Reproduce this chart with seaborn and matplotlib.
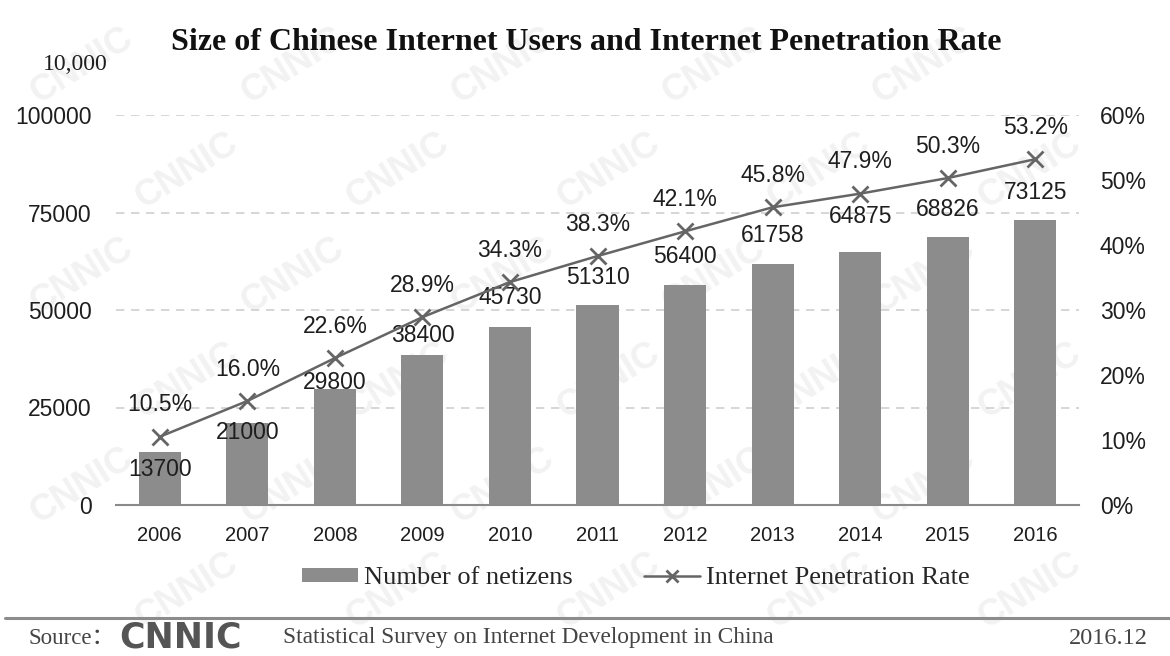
import numpy as np
import pandas as pd
import matplotlib
matplotlib.use("Agg")
import matplotlib.pyplot as plt
import seaborn as sns
from matplotlib.patches import Patch
from matplotlib.lines import Line2D

# Data
years = ["2006", "2007", "2008", "2009", "2010", "2011", "2012", "2013", "2014", "2015", "2016"]
netizens = [13700, 21000, 29800, 38400, 45730, 51310, 56400, 61758, 64875, 68826, 73125]
penetration = [10.5, 16.0, 22.6, 28.9, 34.3, 38.3, 42.1, 45.8, 47.9, 50.3, 53.2]
left_ticks = [0, 25000, 50000, 75000, 100000]
right_ticks = [0, 10, 20, 30, 40, 50, 60]

# Styling
BAR = "#8c8c8c"
LINE = "#656565"
TXT = "#1e1e1e"
GRID = "#cfcfcf"
# vertical nudge (pixels, + = downward) of each bar value label relative to the bar top
bar_label_nudge = [18, 9, -6, -20, -29, -27, -29, -29, -35, -27, -27]
PX = 0.72  # points per pixel at dpi 100

sns.set_theme(style="white")
plt.rcParams["font.family"] = ["Liberation Sans", "DejaVu Sans"]
SERIF = ["Liberation Serif", "Noto Sans CJK SC", "DejaVu Serif"]

df = pd.DataFrame({"year": years, "users": netizens, "rate": penetration})

fig = plt.figure(figsize=(11.7, 6.56), dpi=100)
fig.patch.set_facecolor("white")

# faint diagonal watermark lattice on a background layer
bg = fig.add_axes([0, 0, 1, 1], zorder=-5)
bg.set_xlim(0, 1)
bg.set_ylim(0, 1)
bg.axis("off")
for row, yy in enumerate(np.arange(0.90, 0.05, -0.16)):
    shift = 0.0 if row % 2 == 0 else 0.09
    for xx in np.arange(0.07 + shift, 0.95, 0.18):
        bg.text(xx, yy, "CNNIC", rotation=32, fontsize=26, fontweight="bold",
                color="#f2f2f2", ha="center", va="center")

ax = fig.add_axes([116 / 1170, 1 - 505 / 656, (1079 - 116) / 1170, 390 / 656])
ax.patch.set_alpha(0)
sns.barplot(data=df, x="year", y="users", color=BAR, saturation=1, width=0.48,
            linewidth=0, ax=ax, zorder=2)
ax.set_xlim(-0.5, len(years) - 0.5)
ax.set_ylim(0, 100000)
ax.set_yticks(left_ticks)
ax.set_yticklabels([str(t) for t in left_ticks])
ax.set_xlabel("")
ax.set_ylabel("")
for s in ["top", "right", "left"]:
    ax.spines[s].set_visible(False)
ax.spines["bottom"].set_color("#8a8a8a")
ax.spines["bottom"].set_linewidth(1.5)
for t in left_ticks[1:]:
    ax.axhline(t, color=GRID, lw=1.2, ls=(0, (5, 4)), zorder=1)
ax.tick_params(axis="y", length=0, pad=17.5, labelsize=16.5, labelcolor=TXT)
ax.tick_params(axis="x", which="major", length=0, pad=15, labelsize=14.5, labelcolor=TXT)
ax.set_xticks(np.arange(-0.5, len(years), 1.0), minor=True)
ax.tick_params(axis="x", which="minor", direction="in", length=6, width=1.3, color="#8a8a8a")

for i, v in enumerate(netizens):
    ax.annotate(str(v), (i, v), xytext=(0, -bar_label_nudge[i] * PX), textcoords="offset points",
                ha="center", va="center", fontsize=16.5, color=TXT, zorder=5)

ax2 = ax.twinx()
sns.pointplot(data=df, x="year", y="rate", ax=ax2, color=LINE, markers="x",
              linestyles="-", markersize=11, markeredgewidth=2, linewidth=1.8)
ax2.set_xlim(-0.5, len(years) - 0.5)
ax2.set_ylim(0, 60)
ax2.set_yticks(right_ticks)
ax2.set_yticklabels([f"{t}%" for t in right_ticks])
ax2.set_ylabel("")
ax2.set_xlabel("")
for s in ["top", "right", "left", "bottom"]:
    ax2.spines[s].set_visible(False)
ax2.tick_params(axis="y", length=0, pad=15, labelsize=16.5, labelcolor=TXT)
ax2.tick_params(axis="x", which="both", length=0)
for i, p in enumerate(penetration):
    ax2.annotate(f"{p:.1f}%", (i, p), xytext=(0, 32 * PX), textcoords="offset points",
                 ha="center", va="center", fontsize=16.5, color=TXT)

# title and unit
fig.text(586 / 1170, 1 - 42 / 656, "Size of Chinese Internet Users and Internet Penetration Rate",
         ha="center", va="center", fontsize=23, fontweight="bold", family=SERIF, color="#111111")
fig.text(75 / 1170, 1 - 65 / 656, "10,000", ha="center", va="center", fontsize=17,
         family=SERIF, color=TXT)

# legend
handles = [Patch(facecolor=BAR, edgecolor="none"),
           Line2D([0], [0], color=LINE, lw=1.8, marker="x", markersize=9, markeredgewidth=2)]
fig.legend(handles, ["Number of netizens", "Internet Penetration Rate"],
           loc="center", bbox_to_anchor=(636 / 1170, 1 - 578 / 656), ncol=2, frameon=False,
           prop={"family": SERIF, "size": 19}, handlelength=2.1, handleheight=0.45,
           handletextpad=0.25, columnspacing=2.7)

# footer
fig.add_artist(Line2D([5 / 1170, 1.0], [1 - 618 / 656] * 2, color="#8c8c8c", lw=2.2,
                      transform=fig.transFigure))
fig.text(28 / 1170, 1 - 638 / 656, "Source：", ha="left", va="center", fontsize=16.5,
         family=SERIF, color="#444444")
fig.text(119 / 1170, 1.5 / 656, "CNNIC", ha="left", va="bottom", fontsize=25,
         fontweight="heavy", family=["DejaVu Sans"], color="#555555")
fig.text(283 / 1170, 1 - 638 / 656, "Statistical Survey on Internet Development in China",
         ha="left", va="center", fontsize=16.8, family=SERIF, color="#444444")
fig.text(1148 / 1170, 1 - 638 / 656, "2016.12", ha="right", va="center", fontsize=17.5,
         family=SERIF, color="#444444")

fig.savefig("out.png", dpi=100, facecolor="white")
